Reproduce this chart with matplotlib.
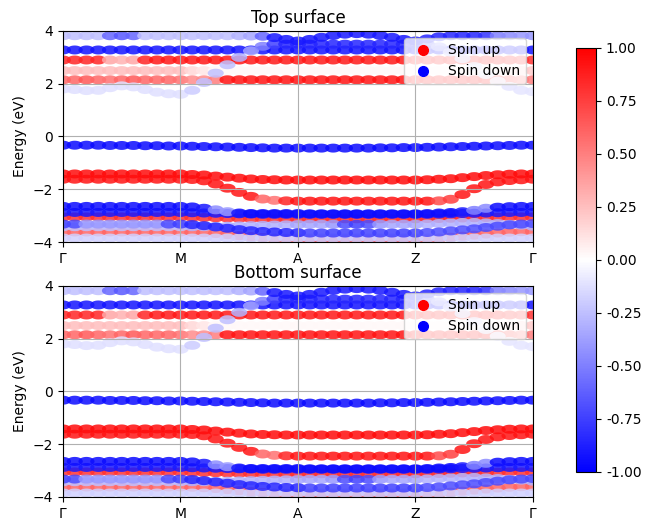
import numpy as np
import matplotlib
matplotlib.use('Agg')
import matplotlib.pyplot as plt
from matplotlib.lines import Line2D
from matplotlib.colors import Normalize
from matplotlib.cm import ScalarMappable

# high-symmetry path, 10 k-steps per segment
k_labels = ['Γ', 'M', 'A', 'Z', 'Γ']
k_ticks = [0, 1, 2, 3, 4]
n_k = 41
kpts = np.linspace(0, 4, n_k)

# band energies (eV) read at each k-point, listed in drawing order
band_15 = [-3.62, -3.62, -3.62, -3.62, -3.62, -3.62, -3.62, -3.62, -3.62, -3.62, -3.62,
           -3.63, -3.65, -3.68, -3.72, -3.76, -3.80, -3.83, -3.86, -3.88, -3.90,
           -3.92, -3.92, -3.92, -3.92, -3.92, -3.92, -3.92, -3.92, -3.92, -3.92,
           -3.90, -3.86, -3.82, -3.78, -3.74, -3.70, -3.66, -3.63, -3.61, -3.60]
spin_15 = [0.6, 0.6, 0.6, 0.6, 0.6, 0.6, 0.6, 0.6, 0.6, 0.6, 0.6,
           0.6, 0.6, 0.6, 0.6, 0.6, 0.6, 0.6, 0.6, 0.6, 0.6,
           0.65, 0.65, 0.65, 0.65, 0.65, 0.65, 0.65, 0.65, 0.65, 0.65,
           0.6, 0.6, 0.6, 0.6, 0.6, 0.6, 0.6, 0.6, 0.6, 0.6]

band_12 = [-3.05, -3.05, -3.05, -3.05, -3.05, -3.05, -3.05, -3.05, -3.05, -3.05, -3.05,
           -3.06, -3.07, -3.08, -3.09, -3.10, -3.11, -3.11, -3.12, -3.12, -3.12,
           -3.12, -3.12, -3.12, -3.12, -3.12, -3.12, -3.12, -3.12, -3.12, -3.12,
           -3.11, -3.11, -3.10, -3.09, -3.08, -3.07, -3.06, -3.05, -3.05, -3.05]
spin_12 = [0.8, 0.8, 0.8, 0.8, 0.8, 0.8, 0.8, 0.8, 0.8, 0.8, 0.8,
           0.8, 0.8, 0.8, 0.8, 0.8, 0.8, 0.8, 0.8, 0.8, 0.8,
           0.8, 0.8, 0.8, 0.8, 0.8, 0.8, 0.8, 0.8, 0.8, 0.8,
           0.8, 0.8, 0.8, 0.8, 0.8, 0.8, 0.8, 0.8, 0.8, 0.8]

band_16 = [-3.85, -3.85, -3.85, -3.85, -3.85, -3.85, -3.85, -3.85, -3.85, -3.85, -3.85,
           -3.85, -3.85, -3.85, -3.85, -3.85, -3.85, -3.85, -3.85, -3.85, -3.85,
           -3.85, -3.85, -3.85, -3.85, -3.85, -3.85, -3.85, -3.85, -3.85, -3.85,
           -3.85, -3.85, -3.85, -3.85, -3.85, -3.85, -3.85, -3.85, -3.85, -3.85]
spin_16 = [-0.18, -0.18, -0.18, -0.18, -0.18, -0.18, -0.18, -0.18, -0.18, -0.18, -0.18,
           -0.18, -0.18, -0.18, -0.18, -0.18, -0.18, -0.18, -0.18, -0.18, -0.18,
           -0.2, -0.2, -0.2, -0.2, -0.2, -0.2, -0.2, -0.2, -0.2, -0.2,
           -0.18, -0.18, -0.18, -0.18, -0.18, -0.18, -0.18, -0.18, -0.18, -0.18]

band_14 = [-3.42, -3.42, -3.42, -3.42, -3.42, -3.42, -3.42, -3.42, -3.42, -3.42, -3.42,
           -3.42, -3.42, -3.41, -3.40, -3.39, -3.38, -3.37, -3.36, -3.35, -3.34,
           -3.33, -3.33, -3.33, -3.33, -3.33, -3.33, -3.33, -3.33, -3.33, -3.33,
           -3.32, -3.30, -3.28, -3.26, -3.26, -3.28, -3.30, -3.33, -3.36, -3.40]
spin_14 = [-0.25, -0.25, -0.25, -0.25, -0.25, -0.25, -0.25, -0.25, -0.25, -0.25, -0.25,
           -0.3, -0.3, -0.3, -0.3, -0.3, -0.3, -0.3, -0.3, -0.3, -0.35,
           -0.35, -0.35, -0.4, -0.7, -0.75, -0.7, -0.4, -0.35, -0.35, -0.35,
           -0.3, -0.3, -0.3, -0.3, -0.3, -0.3, -0.3, -0.3, -0.3, -0.3]

band_13 = [-3.32, -3.32, -3.32, -3.32, -3.32, -3.32, -3.32, -3.32, -3.32, -3.32, -3.32,
           -3.34, -3.38, -3.43, -3.48, -3.53, -3.57, -3.60, -3.62, -3.64, -3.65,
           -3.66, -3.66, -3.66, -3.66, -3.66, -3.66, -3.66, -3.66, -3.66, -3.66,
           -3.64, -3.62, -3.58, -3.54, -3.50, -3.45, -3.40, -3.35, -3.32, -3.30]
spin_13 = [-0.75, -0.7, -0.4, -0.4, -0.4, -0.4, -0.4, -0.4, -0.4, -0.7, -0.75,
           -0.85, -0.85, -0.85, -0.85, -0.85, -0.85, -0.85, -0.85, -0.85, -0.85,
           -0.75, -0.75, -0.75, -0.75, -0.75, -0.75, -0.75, -0.75, -0.75, -0.75,
           -0.7, -0.7, -0.7, -0.7, -0.7, -0.7, -0.7, -0.7, -0.7, -0.7]

band_11 = [-2.88, -2.88, -2.88, -2.88, -2.88, -2.88, -2.88, -2.88, -2.88, -2.88, -2.88,
           -2.89, -2.90, -2.91, -2.92, -2.93, -2.94, -2.95, -2.95, -2.95, -2.95,
           -2.95, -2.95, -2.95, -2.95, -2.95, -2.95, -2.95, -2.95, -2.95, -2.95,
           -2.95, -2.94, -2.93, -2.92, -2.91, -2.90, -2.89, -2.88, -2.88, -2.88]
spin_11 = [-0.9, -0.9, -0.9, -0.9, -0.9, -0.9, -0.9, -0.9, -0.9, -0.9, -0.9,
           -0.9, -0.9, -0.9, -0.9, -0.9, -0.9, -0.9, -0.9, -0.9, -0.9,
           -0.9, -0.9, -0.9, -0.9, -0.9, -0.9, -0.9, -0.9, -0.9, -0.9,
           -0.9, -0.9, -0.9, -0.9, -0.9, -0.9, -0.9, -0.9, -0.9, -0.9]

band_10 = [-2.65, -2.65, -2.65, -2.65, -2.65, -2.65, -2.65, -2.65, -2.65, -2.65, -2.65,
           -2.67, -2.72, -2.78, -2.85, -2.90, -2.92, -2.92, -2.92, -2.92, -2.92,
           -2.93, -2.93, -2.93, -2.93, -2.93, -2.93, -2.93, -2.93, -2.93, -2.93,
           -2.92, -2.90, -2.88, -2.85, -2.80, -2.72, -2.68, -2.66, -2.65, -2.65]
spin_10 = [-0.95, -0.95, -0.95, -0.95, -0.95, -0.95, -0.95, -0.95, -0.95, -0.95, -0.95,
           -0.95, -0.9, -0.45, -0.4, -0.9, -0.95, -0.95, -0.95, -0.95, -0.95,
           -0.95, -0.95, -0.95, -0.95, -0.95, -0.95, -0.95, -0.95, -0.95, -0.95,
           -0.95, -0.95, -0.95, -0.9, -0.5, -0.45, -0.95, -0.95, -0.95, -0.95]

band_9 = [-1.62, -1.62, -1.62, -1.62, -1.62, -1.62, -1.62, -1.62, -1.62, -1.62, -1.62,
          -1.63, -1.68, -1.80, -1.96, -2.12, -2.27, -2.37, -2.42, -2.44, -2.45,
          -2.45, -2.45, -2.45, -2.45, -2.45, -2.45, -2.45, -2.45, -2.45, -2.45,
          -2.45, -2.44, -2.38, -2.20, -1.98, -1.82, -1.72, -1.67, -1.64, -1.62]
spin_9 = [0.92, 0.92, 0.92, 0.92, 0.92, 0.92, 0.92, 0.92, 0.92, 0.92, 0.92,
          0.92, 0.92, 0.92, 0.92, 0.92, 0.92, 0.6, 0.55, 0.85, 0.92,
          0.92, 0.92, 0.92, 0.92, 0.92, 0.92, 0.92, 0.92, 0.92, 0.92,
          0.92, 0.7, 0.75, 0.92, 0.92, 0.92, 0.92, 0.92, 0.92, 0.92]

band_8 = [-1.42, -1.42, -1.42, -1.42, -1.42, -1.42, -1.42, -1.42, -1.42, -1.42, -1.42,
          -1.44, -1.46, -1.50, -1.54, -1.58, -1.61, -1.63, -1.64, -1.65, -1.65,
          -1.65, -1.65, -1.65, -1.65, -1.65, -1.65, -1.65, -1.65, -1.65, -1.65,
          -1.64, -1.62, -1.60, -1.56, -1.52, -1.48, -1.45, -1.43, -1.42, -1.42]
spin_8 = [0.95, 0.95, 0.95, 0.95, 0.95, 0.95, 0.95, 0.95, 0.95, 0.95, 0.95,
          0.95, 0.95, 0.95, 0.95, 0.95, 0.95, 0.95, 0.95, 0.95, 0.95,
          0.95, 0.95, 0.95, 0.95, 0.95, 0.95, 0.95, 0.95, 0.95, 0.95,
          0.95, 0.95, 0.95, 0.95, 0.95, 0.95, 0.95, 0.95, 0.95, 0.95]

band_7 = [-0.33, -0.33, -0.33, -0.33, -0.34, -0.34, -0.34, -0.35, -0.35, -0.36, -0.36,
          -0.37, -0.38, -0.39, -0.40, -0.41, -0.42, -0.43, -0.44, -0.44, -0.44,
          -0.44, -0.44, -0.44, -0.44, -0.44, -0.44, -0.43, -0.43, -0.42, -0.42,
          -0.41, -0.40, -0.39, -0.38, -0.37, -0.36, -0.35, -0.34, -0.33, -0.33]
spin_7 = [-0.95, -0.95, -0.95, -0.95, -0.95, -0.95, -0.95, -0.95, -0.95, -0.95, -0.95,
          -0.95, -0.95, -0.95, -0.95, -0.95, -0.95, -0.95, -0.95, -0.95, -0.95,
          -0.95, -0.95, -0.95, -0.95, -0.95, -0.95, -0.95, -0.95, -0.95, -0.95,
          -0.95, -0.95, -0.95, -0.95, -0.95, -0.95, -0.95, -0.95, -0.95, -0.95]

band_5 = [2.50, 2.50, 2.50, 2.50, 2.50, 2.50, 2.50, 2.50, 2.50, 2.50, 2.50,
          2.50, 2.50, 2.50, 2.50, 2.50, 2.50, 2.50, 2.50, 2.50, 2.50,
          2.50, 2.50, 2.50, 2.50, 2.50, 2.50, 2.50, 2.50, 2.50, 2.50,
          2.50, 2.50, 2.50, 2.50, 2.50, 2.50, 2.50, 2.50, 2.50, 2.50]
spin_5 = [0.25, 0.25, 0.25, 0.25, 0.25, 0.25, 0.25, 0.25, 0.25, 0.25, 0.25,
          0.15, 0.1, 0.03, 0.03, 0.03, 0.03, 0.03, 0.03, 0.03, 0.03,
          0.03, 0.03, 0.03, 0.03, 0.03, 0.03, 0.03, 0.03, 0.03, 0.03,
          0.03, 0.03, 0.03, 0.03, 0.03, 0.03, 0.05, 0.1, 0.15, 0.2]

band_6 = [2.15, 2.15, 2.15, 2.15, 2.15, 2.15, 2.15, 2.15, 2.15, 2.15, 2.15,
          2.15, 2.15, 2.15, 2.15, 2.15, 2.15, 2.15, 2.15, 2.15, 2.15,
          2.15, 2.15, 2.15, 2.15, 2.15, 2.15, 2.15, 2.15, 2.15, 2.15,
          2.15, 2.15, 2.15, 2.15, 2.15, 2.15, 2.15, 2.15, 2.15, 2.15]
spin_6 = [0.6, 0.6, 0.65, 0.6, 0.55, 0.6, 0.65, 0.6, 0.6, 0.6, 0.55,
          0.45, 0.45, 0.5, 0.92, 0.92, 0.92, 0.92, 0.92, 0.92, 0.92,
          0.92, 0.92, 0.92, 0.92, 0.92, 0.92, 0.92, 0.92, 0.92, 0.92,
          0.92, 0.92, 0.92, 0.92, 0.92, 0.92, 0.85, 0.7, 0.55, 0.5]

band_4 = [2.90, 2.90, 2.90, 2.90, 2.90, 2.90, 2.90, 2.90, 2.90, 2.90, 2.90,
          2.90, 2.90, 2.90, 2.90, 2.90, 2.90, 2.90, 2.90, 2.90, 2.90,
          2.90, 2.90, 2.90, 2.90, 2.90, 2.90, 2.90, 2.90, 2.90, 2.90,
          2.90, 2.90, 2.90, 2.90, 2.90, 2.90, 2.90, 2.90, 2.90, 2.90]
spin_4 = [0.85, 0.85, 0.85, 0.85, 0.35, 0.3, 0.35, 0.85, 0.9, 0.9, 0.9,
          0.9, 0.9, 0.9, 0.9, 0.9, 0.9, 0.9, 0.9, 0.9, 0.9,
          0.9, 0.9, 0.9, 0.9, 0.9, 0.9, 0.9, 0.9, 0.9, 0.9,
          0.9, 0.9, 0.9, 0.9, 0.9, 0.9, 0.9, 0.85, 0.8, 0.8]

band_3 = [3.28, 3.28, 3.28, 3.28, 3.28, 3.28, 3.28, 3.28, 3.28, 3.28, 3.28,
          3.28, 3.28, 3.28, 3.28, 3.28, 3.28, 3.28, 3.28, 3.28, 3.28,
          3.28, 3.28, 3.28, 3.28, 3.28, 3.28, 3.28, 3.28, 3.28, 3.28,
          3.28, 3.28, 3.28, 3.28, 3.28, 3.28, 3.28, 3.28, 3.28, 3.28]
spin_3 = [-0.92, -0.92, -0.92, -0.92, -0.92, -0.92, -0.92, -0.92, -0.92, -0.92, -0.92,
          -0.92, -0.92, -0.92, -0.92, -0.92, -0.92, -0.92, -0.92, -0.92, -0.92,
          -0.92, -0.92, -0.92, -0.92, -0.92, -0.92, -0.92, -0.92, -0.92, -0.92,
          -0.92, -0.92, -0.92, -0.92, -0.92, -0.92, -0.92, -0.92, -0.92, -0.92]

band_2 = [1.80, 1.78, 1.74, 1.75, 1.85, 1.92, 1.88, 1.78, 1.68, 1.62, 1.60,
          1.75, 2.05, 2.40, 2.72, 3.00, 3.25, 3.42, 3.50, 3.50, 3.50,
          3.50, 3.50, 3.50, 3.50, 3.50, 3.50, 3.50, 3.50, 3.50, 3.50,
          3.48, 3.40, 3.20, 2.95, 2.65, 2.35, 2.10, 1.90, 1.75, 1.70]
spin_2 = [-0.12, -0.12, -0.12, -0.12, -0.12, -0.12, -0.12, -0.12, -0.12, -0.12, -0.12,
          -0.2, -0.25, -0.25, -0.25, -0.3, -0.35, -0.5, -0.75, -0.85, -0.85,
          -0.85, -0.85, -0.85, -0.85, -0.85, -0.85, -0.85, -0.85, -0.85, -0.8,
          -0.6, -0.4, -0.25, -0.2, -0.15, -0.12, -0.1, -0.1, -0.1, -0.1]

band_1 = [3.82, 3.82, 3.82, 3.82, 3.82, 3.82, 3.82, 3.82, 3.82, 3.82, 3.82,
          3.82, 3.82, 3.82, 3.82, 3.82, 3.81, 3.80, 3.75, 3.68, 3.62,
          3.68, 3.76, 3.83, 3.88, 3.90, 3.88, 3.83, 3.76, 3.68, 3.62,
          3.70, 3.78, 3.82, 3.82, 3.82, 3.82, 3.82, 3.82, 3.82, 3.82]
spin_1 = [-0.25, -0.25, -0.25, -0.25, -0.6, -0.65, -0.6, -0.25, -0.25, -0.25, -0.25,
          -0.25, -0.25, -0.25, -0.25, -0.3, -0.35, -0.6, -0.9, -0.9, -0.9,
          -0.9, -0.9, -0.9, -0.9, -0.9, -0.9, -0.9, -0.9, -0.9, -0.9,
          -0.85, -0.85, -0.85, -0.85, -0.85, -0.8, -0.5, -0.45, -0.4, -0.4]

bands = [band_15, band_12, band_16, band_14, band_13, band_11, band_10, band_9,
         band_8, band_7, band_5, band_6, band_4, band_3, band_2, band_1]
spins = [spin_15, spin_12, spin_16, spin_14, spin_13, spin_11, spin_10, spin_9,
         spin_8, spin_7, spin_5, spin_6, spin_4, spin_3, spin_2, spin_1]

titles = ['Top surface', 'Bottom surface']

# wide oval marker so neighbouring k-points run together into a stripe
t = np.linspace(0, 2 * np.pi, 40)
oval = np.column_stack([1.8 * np.cos(t), np.sin(t)])

norm = Normalize(vmin=-1, vmax=1)
cmap = plt.get_cmap('bwr')

fig = plt.figure(figsize=(6.48, 5.19), dpi=100)
ax_top = fig.add_axes([0.0972, 0.5337, 0.7253, 0.4066])
ax_bot = fig.add_axes([0.0972, 0.0424, 0.7253, 0.4066])

for ax, title in zip([ax_top, ax_bot], titles):
    for e, s in zip(bands, spins):
        ax.scatter(kpts, e, c=s, cmap=cmap, norm=norm, marker=oval, s=135,
                   alpha=0.85, linewidths=0)
    ax.set_xlim(0, 4)
    ax.set_ylim(-4, 4)
    ax.set_yticks([-4, -2, 0, 2, 4])
    ax.set_xticks(k_ticks)
    ax.set_xticklabels(k_labels)
    ax.set_ylabel('Energy (eV)')
    ax.set_title(title)
    ax.grid(True)
    handles = [Line2D([], [], marker='o', linestyle='', color='red', markersize=7),
               Line2D([], [], marker='o', linestyle='', color='blue', markersize=7)]
    ax.legend(handles, ['Spin up', 'Spin down'], loc='upper right')

cax = fig.add_axes([0.889, 0.0906, 0.031, 0.817])
cb = fig.colorbar(ScalarMappable(norm=norm, cmap=cmap), cax=cax)
cb.set_ticks([-1, -0.75, -0.5, -0.25, 0, 0.25, 0.5, 0.75, 1])
cb.ax.yaxis.set_major_formatter(matplotlib.ticker.FormatStrFormatter('%.2f'))

fig.savefig('out.png', dpi=100)
